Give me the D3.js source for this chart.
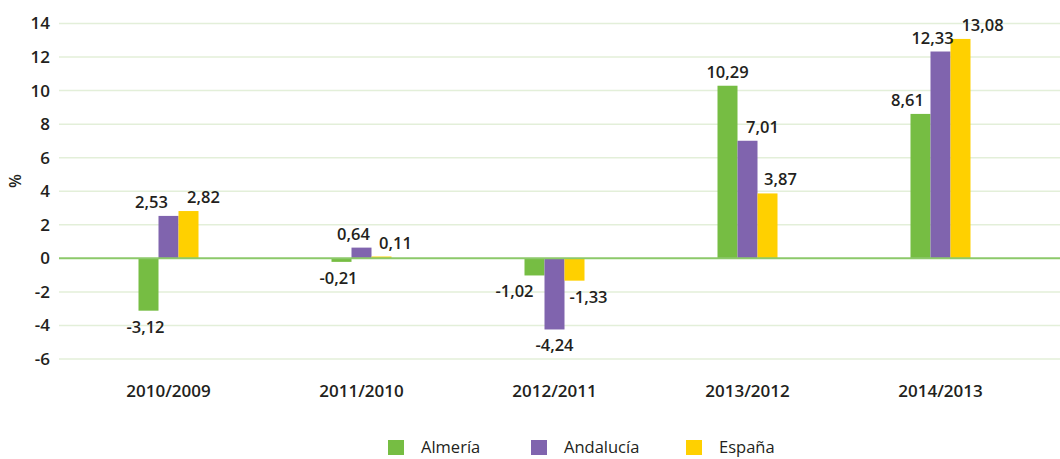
<!DOCTYPE html>
<html>
<head>
<meta charset="utf-8">
<script src="https://cdn.jsdelivr.net/npm/d3@7"></script>
<style>
  body { margin:0; background:#fff; }
  svg text { font-family:"Open Sans", sans-serif; fill:#231f20; }
</style>
</head>
<body>
<div id="chart"></div>
<script>
// data
const periods = ['2010/2009','2011/2010','2012/2011','2013/2012','2014/2013'];
const seriesNames = ['Almería','Andalucía','España'];
const almeria   = [-3.12, -0.21, -1.02, 10.29, 8.61];
const andalucia = [ 2.53,  0.64, -4.24,  7.01, 12.33];
const espana    = [ 2.82,  0.11, -1.33,  3.87, 13.08];
const yTicks = [-6,-4,-2,0,2,4,6,8,10,12,14];

(function(){
  const width = 1060, height = 459;
  const colors = ['#76bd43','#8064ae','#ffd000'];
  const values = [almeria, andalucia, espana];

  // horizontal nudges for the value labels so they do not collide (per series, per period)
  const labelDx = [
    [ -3,  -3, -20,  0, -13],
    [-17,  -8,   0, 15,  -8],
    [ 15,  14,  14, 13,  22]
  ];

  const svg = d3.select('#chart').append('svg')
    .attr('width', width)
    .attr('height', height);

  const x = d3.scaleBand()
    .domain(periods)
    .range([72, 1037])
    .paddingInner(0)
    .paddingOuter(0);

  const y = d3.scaleLinear()
    .domain([-6, 14])
    .range([359, 23.5]);

  const barW = 20;
  const hyphen = s => s.replace('\u2212', '-');

  // gridlines
  svg.append('g').selectAll('line').data(yTicks.filter(d => d !== 0)).enter().append('line')
    .attr('x1', 59).attr('x2', width)
    .attr('y1', d => y(d)).attr('y2', d => y(d))
    .attr('stroke', '#e3efd9')
    .attr('stroke-width', 1.5);

  // y axis labels
  const yAxis = svg.append('g')
    .attr('transform', 'translate(50,0)')
    .call(d3.axisLeft(y).tickValues(yTicks).tickSize(0).tickPadding(0)
      .tickFormat(d => hyphen(d3.format('d')(d))));
  yAxis.select('.domain').remove();
  yAxis.selectAll('text')
    .attr('font-size', '17px')
    .attr('font-weight', 600)
    .style('font-family', '"Open Sans", sans-serif')
    .style('fill', '#231f20');

  svg.append('text')
    .attr('transform', 'translate(21,181) rotate(-90)')
    .attr('text-anchor', 'middle')
    .attr('font-size', '16px')
    .attr('font-weight', 600)
    .text('%');

  // bars
  values.forEach((vals, s) => {
    svg.append('g').selectAll('rect').data(vals).enter().append('rect')
      .attr('x', (d, i) => x(periods[i]) + x.bandwidth()/2 - 1.5*barW + s*barW)
      .attr('y', d => y(Math.max(0, d)))
      .attr('width', barW)
      .attr('height', d => Math.abs(y(d) - y(0)))
      .attr('fill', colors[s]);
  });

  // zero line
  svg.append('line')
    .attr('x1', 59).attr('x2', width)
    .attr('y1', y(0)).attr('y2', y(0))
    .attr('stroke', '#8cc96a')
    .attr('stroke-width', 2);

  // value labels
  const fmt = d => hyphen(d3.format('.2f')(d)).replace('.', ',');
  values.forEach((vals, s) => {
    svg.append('g').selectAll('text').data(vals).enter().append('text')
      .attr('x', (d, i) => x(periods[i]) + x.bandwidth()/2 - barW + s*barW + labelDx[s][i])
      .attr('y', d => d >= 0 ? y(d) - 8 : y(d) + 22)
      .attr('text-anchor', 'middle')
      .attr('font-size', '16.5px')
      .attr('font-weight', 600)
      .text(d => fmt(d));
  });

  // x category labels
  svg.append('g').selectAll('text').data(periods).enter().append('text')
    .attr('x', d => x(d) + x.bandwidth()/2)
    .attr('y', 397)
    .attr('text-anchor', 'middle')
    .attr('font-size', '17px')
    .attr('font-weight', 600)
    .text(d => d);

  // legend
  const legendX = [388, 531, 686];
  const legend = svg.append('g');
  seriesNames.forEach((name, s) => {
    const g = legend.append('g').attr('transform', `translate(${legendX[s]},440)`);
    g.append('rect').attr('width', 16).attr('height', 15).attr('fill', colors[s]);
    g.append('text').attr('x', 33).attr('y', 13)
      .attr('font-size', '16.5px')
      .attr('font-weight', 400)
      .text(name);
  });
})();
</script>
</body>
</html>
